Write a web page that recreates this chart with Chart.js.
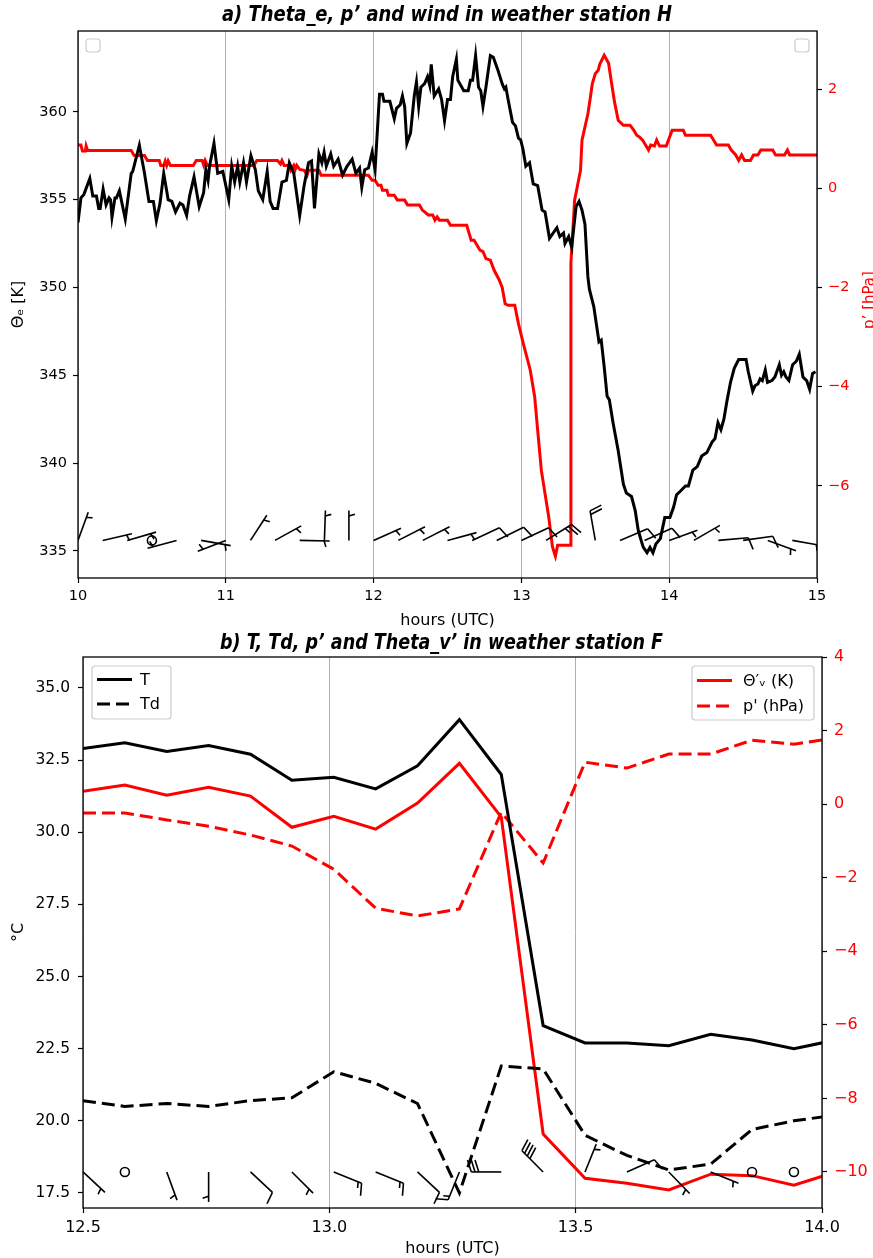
<!DOCTYPE html>
<html>
<head>
<meta charset="utf-8">
<script src="https://cdn.jsdelivr.net/npm/chart.js@4.4.1/dist/chart.umd.min.js"></script>
<style>
body{margin:0;background:#fff;width:873px;height:1258px;overflow:hidden;position:relative}
canvas{position:absolute;left:0}
#ca{top:0}
#cb{top:636px}
.ttl{position:absolute;font-family:"Liberation Sans Narrow","DejaVu Sans Condensed","DejaVu Sans",sans-serif;font-stretch:condensed;font-weight:bold;font-style:italic;font-size:21px;line-height:24px;white-space:nowrap;transform-origin:0 50%;color:#000}
#ta{left:222px;top:2px}
#tb{left:220px;top:630px}
</style>
</head>
<body>
<canvas id="ca" width="873" height="636"></canvas>
<canvas id="cb" width="873" height="622"></canvas>
<div class="ttl" id="ta">a) Theta_e, p’ and wind in weather station H</div>
<div class="ttl" id="tb">b) T, Td, p’ and Theta_v’ in weather station F</div>
<script>
// ---- panel a: weather station H (hours UTC) ----
var thetaTime = [
10.00,10.02,10.04,10.08,10.10,10.125,10.14,10.15,10.17,10.19,
10.21,10.22,10.23,10.25,10.26,10.28,10.32,10.36,10.37,10.415,
10.45,10.48,10.51,10.53,10.555,10.58,10.61,10.635,10.66,10.69,
10.71,10.735,10.755,10.785,10.82,10.85,10.865,10.88,10.89,10.92,
10.945,10.98,11.02,11.04,11.06,11.08,11.095,11.12,11.14,11.17,
11.20,11.22,11.25,11.28,11.30,11.32,11.35,11.38,11.41,11.43,
11.46,11.50,11.53,11.56,11.58,11.60,11.63,11.65,11.665,11.68,
11.71,11.73,11.76,11.79,11.82,11.855,11.88,11.905,11.92,11.94,
11.965,11.99,12.01,12.04,12.06,12.07,12.11,12.14,12.155,12.18,
12.195,12.21,12.225,12.25,12.275,12.29,12.305,12.32,12.345,12.365,
12.38,12.39,12.41,12.44,12.46,12.48,12.50,12.52,12.535,12.56,
12.57,12.61,12.64,12.655,12.67,12.69,12.71,12.725,12.74,12.76,
12.79,12.81,12.84,12.87,12.885,12.895,12.91,12.94,12.96,12.98,
12.995,13.01,13.03,13.055,13.08,13.11,13.14,13.16,13.19,13.24,
13.26,13.285,13.295,13.32,13.34,13.37,13.39,13.41,13.43,13.45,
13.46,13.49,13.525,13.54,13.56,13.58,13.595,13.62,13.655,13.69,
13.71,13.745,13.77,13.79,13.81,13.825,13.85,13.87,13.89,13.91,
13.94,13.97,14.005,14.03,14.05,14.075,14.11,14.13,14.16,14.19,
14.22,14.255,14.29,14.31,14.33,14.35,14.37,14.39,14.415,14.44,
14.47,14.52,14.535,14.565,14.58,14.60,14.615,14.63,14.65,14.665,
14.695,14.715,14.745,14.76,14.775,14.79,14.81,14.835,14.86,14.88,
14.905,14.93,14.95,14.97,14.99
];
var thetaE = [
353.7,355.1,355.3,356.2,355.2,355.2,354.5,354.5,355.6,354.7,
355.1,355.0,354.0,355.1,355.1,355.5,353.9,356.5,356.6,358.1,
356.5,354.9,354.9,353.8,354.8,356.5,355.0,354.9,354.3,354.8,
354.7,354.1,355.2,356.3,354.6,355.4,356.7,356.1,356.9,358.2,
356.5,356.6,355.0,356.9,356.0,356.9,356.0,357.1,356.0,357.5,
356.7,355.5,355.0,356.6,354.9,354.5,354.5,356.0,356.1,357.1,
356.5,354.1,355.8,357.1,357.2,354.5,357.6,357.1,357.7,356.9,
357.6,356.9,357.3,356.4,356.9,357.3,356.5,356.8,355.7,356.7,
356.8,357.7,356.7,361.0,361.0,360.6,360.6,359.6,360.2,360.4,
360.9,360.3,358.2,358.8,360.9,361.7,360.3,361.4,361.6,362.0,
361.5,362.7,360.9,361.3,360.7,359.5,360.7,360.7,362.0,363.0,
361.8,361.2,361.2,361.8,361.8,363.2,361.4,361.2,360.3,361.4,
363.2,363.1,362.4,361.6,361.3,361.4,360.7,359.4,359.2,358.5,
358.4,357.9,356.9,357.1,355.9,355.8,354.4,354.3,352.8,353.4,
352.9,353.1,352.5,352.9,352.3,354.6,354.9,354.4,353.6,350.6,
349.9,348.9,346.9,347.0,345.5,343.8,343.6,342.3,340.7,338.8,
338.3,338.1,337.3,336.2,335.6,335.2,334.9,335.2,334.9,335.4,
335.7,336.9,336.9,337.5,338.2,338.4,338.7,338.7,339.6,339.8,
340.4,340.6,341.2,341.4,342.3,341.9,342.5,343.5,344.6,345.4,
345.9,345.9,345.2,344.1,344.4,344.5,344.8,344.7,345.3,344.6,
344.7,344.9,345.6,345.0,345.2,344.9,344.7,345.6,345.8,346.2,
344.9,344.7,344.2,345.1,345.2
];
var presTimeA = [
10.00,10.02,10.03,10.05,10.055,10.065,10.36,10.38,10.45,10.47,
10.55,10.56,10.58,10.59,10.60,10.61,10.625,10.78,10.80,10.84,
10.85,10.86,10.875,11.19,11.21,11.35,11.37,11.38,11.395,11.43,
11.44,11.46,11.47,11.48,11.50,11.53,11.55,11.56,11.63,11.645,
11.965,11.99,12.01,12.03,12.05,12.06,12.09,12.10,12.14,12.16,
12.21,12.23,12.31,12.33,12.37,12.40,12.415,12.43,12.445,12.50,
12.52,12.63,12.66,12.68,12.72,12.74,12.76,12.79,12.815,12.85,
12.87,12.89,12.91,12.955,12.98,13.01,13.06,13.09,13.11,13.135,
13.16,13.185,13.21,13.23,13.245,13.33,13.335,13.36,13.40,13.41,
13.45,13.465,13.48,13.50,13.52,13.53,13.56,13.59,13.61,13.63,
13.655,13.69,13.735,13.76,13.78,13.80,13.82,13.84,13.86,13.875,
13.90,13.915,13.935,13.98,14.02,14.095,14.11,14.28,14.30,14.32,
14.40,14.42,14.45,14.47,14.49,14.51,14.55,14.57,14.60,14.62,
14.70,14.72,14.78,14.80,14.815,15.00
];
var presA = [
0.87,0.87,0.75,0.75,0.85,0.76,0.76,0.66,0.66,0.56,
0.56,0.46,0.46,0.55,0.46,0.55,0.46,0.46,0.56,0.56,
0.47,0.56,0.46,0.46,0.56,0.56,0.49,0.56,0.46,0.46,
0.36,0.46,0.38,0.46,0.38,0.36,0.26,0.36,0.36,0.26,
0.26,0.16,0.16,0.06,0.06,-0.04,-0.04,-0.14,-0.14,-0.24,
-0.24,-0.34,-0.34,-0.44,-0.54,-0.54,-0.645,-0.58,-0.645,-0.645,
-0.746,-0.746,-1.05,-1.05,-1.25,-1.28,-1.42,-1.45,-1.65,-1.85,
-2.0,-2.33,-2.36,-2.36,-2.73,-3.1,-3.67,-4.21,-4.88,-5.69,
-6.16,-6.63,-7.23,-7.42,-7.2,-7.2,-1.51,-0.24,0.36,0.97,
1.5,1.8,2.11,2.31,2.38,2.5,2.68,2.52,2.12,1.74,
1.37,1.27,1.27,1.17,1.07,1.03,0.97,0.87,0.77,0.87,
0.85,0.97,0.85,0.85,1.17,1.17,1.07,1.07,0.97,0.87,
0.87,0.77,0.67,0.56,0.67,0.56,0.56,0.67,0.67,0.77,
0.77,0.67,0.67,0.77,0.67,0.67
];
// wind: direction the wind blows from (deg), speed (kt)
var windTimeA = [10.0,10.167,10.333,10.5,10.667,10.833,11.0,11.167,11.333,11.5,
  11.667,11.833,12.0,12.167,12.333,12.5,12.667,12.833,13.0,13.167,
  13.5,13.667,13.833,14.0,14.167,14.333,14.5,14.667,14.833];
var windDirA = [20,77,74,0,255,100,249,33,61,91,
  2,0,66,63,63,75,65,64,65,58,
  350,67,66,70,60,85,82,110,100];
var windSpeedA = [5,5,5,0,5,5,5,5,5,5,
  5,5,5,5,5,5,10,10,10,25,
  20,10,10,5,5,10,10,5,5];
var windLevelA = 335.6;

// ---- panel b: weather station F ----
var timeB = [12.5,12.585,12.67,12.755,12.84,12.924,13.009,13.094,13.179,13.264,
  13.349,13.434,13.519,13.604,13.689,13.774,13.858,13.943,14.028];
var tempB = [32.9,33.1,32.8,33.0,32.7,31.8,31.9,31.5,32.3,33.9,
  32.0,23.3,22.7,22.7,22.6,23.0,22.8,22.5,22.8];
var dewB = [20.7,20.5,20.6,20.5,20.7,20.8,21.7,21.3,20.6,17.5,
  21.9,21.8,19.5,18.8,18.3,18.5,19.7,20.0,20.2];
var thetaVB = [0.35,0.52,0.24,0.46,0.22,-0.63,-0.33,-0.68,0.03,1.11,
  -0.35,-8.97,-10.17,-10.31,-10.49,-10.06,-10.1,-10.36,-10.0];
var presB = [-0.24,-0.24,-0.43,-0.6,-0.84,-1.14,-1.77,-2.83,-3.04,-2.85,
  -0.22,-1.6,1.14,0.98,1.36,1.36,1.74,1.63,1.8];
var windTimeB = [12.5,12.585,12.67,12.755,12.84,12.924,13.009,13.094,13.179,13.264,
  13.349,13.434,13.519,13.604,13.689,13.774,13.858,13.943];
var windDirB = [133,0,160,180,133,135,112,112,133,202,
  270,315,22,66,136,112,0,0];
var windSpeedB = [5,0,5,5,10,5,15,15,10,15,
  30,40,5,10,5,5,0,0];
var windLevelB = -10;

var FONT = '"DejaVu Sans", sans-serif';

function pts(xs, ys) {
  return xs.map(function(x, i) { return {x: x, y: ys[i]}; });
}
function minus(v) {
  return v < 0 ? '\u2212' + Math.abs(v) : '' + v;
}

function drawBarb(ctx, x0, y0, dir, speed, L) {
  var b = dir * Math.PI / 180;
  var sx = Math.sin(b), sy = -Math.cos(b);
  var nx = -sy, ny = sx;
  var fh = 0.4 * L, fw = 0.25 * L, sp = 0.125 * L;
  function P(o, h) { return [x0 + sx * o + nx * h, y0 + sy * o + ny * h]; }
  ctx.beginPath();
  if (speed < 2.5) {
    ctx.arc(x0, y0, 0.15 * L, 0, Math.PI * 2);
    ctx.stroke();
    return;
  }
  var flags = Math.floor(speed / 50);
  var rem = speed - flags * 50;
  var full = Math.floor(rem / 10);
  var half = (rem - full * 10) >= 5;
  var p = P(0, 0), q = P(L, 0);
  ctx.moveTo(p[0], p[1]); ctx.lineTo(q[0], q[1]);
  ctx.stroke();
  var off = L;
  for (var i = 0; i < flags; i++) {
    if (off !== L) off += sp / 2;
    var a = P(off, 0), c = P(off - fw / 2, fh), d = P(off - fw, 0);
    ctx.beginPath(); ctx.moveTo(a[0], a[1]); ctx.lineTo(c[0], c[1]); ctx.lineTo(d[0], d[1]); ctx.closePath(); ctx.fill();
    off -= fw + sp;
  }
  for (var j = 0; j < full; j++) {
    var a1 = P(off, 0), b1 = P(off + fw / 2, fh);
    ctx.beginPath(); ctx.moveTo(a1[0], a1[1]); ctx.lineTo(b1[0], b1[1]); ctx.stroke();
    off -= sp;
  }
  if (half) {
    if (off === L) off -= 1.5 * sp;
    var a2 = P(off, 0), b2 = P(off + fw / 4, fh / 2);
    ctx.beginPath(); ctx.moveTo(a2[0], a2[1]); ctx.lineTo(b2[0], b2[1]); ctx.stroke();
  }
}

// barbs, frame and legend boxes drawn on top of the datasets
var extras = {
  id: 'extras',
  afterDatasetsDraw: function(chart, args, o) {
    var ctx = chart.ctx, ca = chart.chartArea;
    var xs = chart.scales.x, ys = chart.scales[o.windAxis];
    ctx.save();
    ctx.beginPath(); ctx.rect(ca.left, ca.top, ca.right - ca.left, ca.bottom - ca.top); ctx.clip();
    ctx.strokeStyle = '#000'; ctx.fillStyle = '#000'; ctx.lineWidth = 1.6; ctx.lineCap = 'butt';
    o.windTime.forEach(function(t, i) {
      drawBarb(ctx, xs.getPixelForValue(t), ys.getPixelForValue(o.windLevel), o.windDir[i], o.windSpeed[i], 30);
    });
    ctx.restore();

    ctx.save();
    ctx.strokeStyle = '#000'; ctx.lineWidth = 1.3;
    ctx.strokeRect(ca.left, ca.top, ca.right - ca.left, ca.bottom - ca.top);
    ctx.restore();

    (o.boxes || []).forEach(function(bx) {
      ctx.save();
      ctx.fillStyle = 'rgba(255,255,255,0.8)';
      ctx.strokeStyle = '#cccccc'; ctx.lineWidth = 1.2;
      ctx.beginPath(); ctx.roundRect(bx.x, bx.y, bx.w, bx.h, 3); ctx.fill(); ctx.stroke();
      (bx.items || []).forEach(function(di, k) {
        var ds = chart.data.datasets[di];
        var yy = bx.y + bx.rows[k];
        ctx.strokeStyle = ds.borderColor; ctx.lineWidth = ds.borderWidth;
        ctx.setLineDash(ds.borderDash || []);
        ctx.beginPath(); ctx.moveTo(bx.x + 5, yy); ctx.lineTo(bx.x + 40, yy); ctx.stroke();
        ctx.setLineDash([]);
        ctx.fillStyle = '#000'; ctx.font = o.legendFont + 'px ' + FONT; ctx.textBaseline = 'middle';
        ctx.fillText(ds.label, bx.x + bx.tx, yy + 1);
      });
      ctx.restore();
    });

    if (o.rightTitle) {
      ctx.save();
      ctx.translate(o.rightTitle.x, o.rightTitle.y); ctx.rotate(-Math.PI / 2);
      ctx.fillStyle = '#ff0000'; ctx.font = '15px ' + FONT;
      ctx.textAlign = 'center'; ctx.textBaseline = 'middle';
      ctx.fillText(o.rightTitle.text, 0, 0);
      ctx.restore();
    }
  }
};

function xScale(min, max, ticks, h, fmt, pb, fs) {
  return {
    type: 'linear', min: min, max: max,
    afterBuildTicks: function(s) { s.ticks = ticks.map(function(v) { return {value: v}; }); },
    afterFit: function(s) { s.height = h; },
    grid: {color: '#b0b0b0', lineWidth: 1, tickColor: '#000', tickWidth: 1.2, tickLength: 5},
    border: {display: false},
    ticks: {color: '#000', font: {size: fs, family: FONT}, padding: 5, maxRotation: 0, autoSkip: false, callback: fmt},
    title: {display: true, text: 'hours (UTC)', color: '#000', font: {size: 16, family: FONT}, padding: {top: 0, bottom: pb}}
  };
}
function yScale(pos, min, max, ticks, w, color, fmt, title, fs, pad) {
  return {
    type: 'linear', position: pos, min: min, max: max,
    afterBuildTicks: function(s) { s.ticks = ticks.map(function(v) { return {value: v}; }); },
    afterFit: function(s) { s.width = w; },
    grid: {drawOnChartArea: false, tickColor: '#000', tickWidth: 1.2, tickLength: 5},
    border: {display: false},
    ticks: {color: color, font: {size: fs, family: FONT}, padding: pad, autoSkip: false, callback: fmt},
    title: title ? {display: true, text: title, color: '#000', font: {size: 16, family: FONT}, padding: {top: 9, bottom: 0}} : {display: false}
  };
}
function line(label, data, color, axis, width, dash) {
  return {label: label, data: data, borderColor: color, backgroundColor: color, borderWidth: width,
    borderDash: dash || [], pointRadius: 0, tension: 0, fill: false, yAxisID: axis};
}

new Chart(document.getElementById('ca'), {
  type: 'line',
  data: {datasets: [
    line('Theta_e', pts(thetaTime, thetaE), '#000000', 'y', 3),
    line("p'", pts(presTimeA, presA), '#ff0000', 'y2', 3)
  ]},
  options: {
    responsive: false, animation: false, devicePixelRatio: 1,
    layout: {padding: {top: 31, left: 0, right: 0, bottom: 0}},
    plugins: {
      legend: {display: false}, tooltip: {enabled: false},
      extras: {
        windAxis: 'y', windTime: windTimeA, windDir: windDirA, windSpeed: windSpeedA, windLevel: windLevelA,
        boxes: [{x: 86, y: 39, w: 14, h: 13}, {x: 795, y: 39, w: 14, h: 13}],
        rightTitle: {text: 'p’ [hPa]', x: 870, y: 300}
      }
    },
    scales: {
      x: xScale(10, 15, [10, 11, 12, 13, 14, 15], 58, function(v) { return '' + v; }, 6, 14.5),
      y: yScale('left', 333.46, 364.6, [335, 340, 345, 350, 355, 360], 78, '#000', function(v) { return '' + v; }, 'Θₑ [K]', 14.5, 6),
      y2: yScale('right', -7.86, 3.17, [-6, -4, -2, 0, 2], 56, '#ff0000', minus, null, 14.5, 6)
    }
  },
  plugins: [extras]
});

new Chart(document.getElementById('cb'), {
  type: 'line',
  data: {datasets: [
    line('T', pts(timeB, tempB), '#000000', 'y', 3),
    line('Td', pts(timeB, dewB), '#000000', 'y', 3, [13, 6]),
    line('Θ′ᵥ (K)', pts(timeB, thetaVB), '#ff0000', 'y2', 3),
    line("p' (hPa)", pts(timeB, presB), '#ff0000', 'y2', 3, [13, 6])
  ]},
  options: {
    responsive: false, animation: false, devicePixelRatio: 1,
    layout: {padding: {top: 21, left: 0, right: 0, bottom: 0}},
    plugins: {
      legend: {display: false}, tooltip: {enabled: false},
      extras: {
        windAxis: 'y2', windTime: windTimeB, windDir: windDirB, windSpeed: windSpeedB, windLevel: windLevelB,
        legendFont: 16,
        boxes: [
          {x: 92, y: 30, w: 79, h: 53, items: [0, 1], rows: [13.5, 38], tx: 48},
          {x: 692, y: 30, w: 122, h: 54, items: [2, 3], rows: [14.5, 40], tx: 51}
        ]
      }
    },
    scales: {
      x: xScale(12.5, 14.0, [12.5, 13.0, 13.5, 14.0], 50, function(v) { return v.toFixed(1); }, 0, 16),
      y: yScale('left', 16.98, 36.07, [17.5, 20, 22.5, 25, 27.5, 30, 32.5, 35], 83, '#000', function(v) { return v.toFixed(1); }, '°C', 15.5, 8),
      y2: yScale('right', -10.98, 4, [-10, -8, -6, -4, -2, 0, 2, 4], 51, '#ff0000', minus, null, 16, 7)
    }
  },
  plugins: [extras]
});

// squeeze the titles to the width they take in the figure
[['ta', 450], ['tb', 443]].forEach(function(p) {
  var el = document.getElementById(p[0]);
  var w = el.getBoundingClientRect().width;
  el.style.transform = 'scaleX(' + (p[1] / w) + ')';
});
</script>
</body>
</html>
